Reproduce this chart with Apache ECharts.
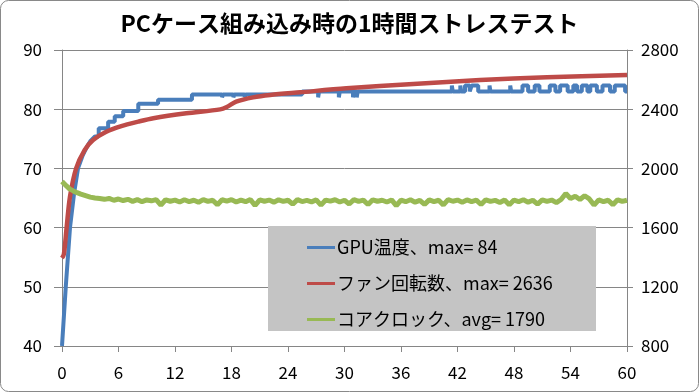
<!DOCTYPE html>
<html><head><meta charset="utf-8">
<script src="https://cdn.jsdelivr.net/npm/echarts@6/dist/echarts.min.js"></script>
<style>html,body{margin:0;padding:0;background:#fff}#c{width:699px;height:392px}</style>
</head><body><div id="c"></div>
<script>
const FONT = '"Noto Sans CJK JP", "Noto Sans", sans-serif';
const titleText = 'PCケース組み込み時の1時間ストレステスト';
const seriesNames = ['GPU温度、max= 84', 'ファン回転数、max= 2636', 'コアクロック、avg= 1790'];

// GPU temperature (left axis, °C)
const gpuTime = [0,0.4,0.85,1.3,1.7,2.2,2.6,3.0,3.5,3.9,3.9,4.9,4.9,5.6,5.6,6.5,6.5,8.1,8.1,10.2,10.2,13.8,13.8,
  17.0,17.0,17.1,17.1,18.2,18.2,18.3,18.3,19.4,19.4,19.5,19.5,25.5,25.5,
  27.2,27.2,27.3,27.3,29.4,29.4,29.5,29.5,30.9,30.9,31.0,31.0,31.3,31.3,31.4,31.4,
  41.4,41.4,41.5,41.5,42.3,42.3,42.4,42.4,42.8,42.8,43.3,43.3,43.5,43.5,44.2,44.2,45.4,45.4,45.5,45.5,
  47.6,47.6,47.7,47.7,48.9,48.9,49.5,49.5,50.2,50.2,50.7,50.7,51.8,51.8,52.4,52.4,52.9,52.9,53.7,53.7,
  54.3,54.3,54.7,54.7,55.2,55.2,55.8,55.8,56.1,56.1,56.8,56.8,57.4,57.4,58.2,58.2,58.7,58.7,59.8,59.8,60];
const gpuTemp = [40,50,60,66,70,72.2,73.5,74.6,75.4,75.4,76.8,76.8,77.9,77.9,78.8,78.8,79.7,79.7,80.9,80.9,81.6,81.6,82.5,
  82.5,82,82,82.5,82.5,82,82,82.5,82.5,82,82,82.5,82.5,83,
  83,82,82,83,83,82,82,83,83,82,82,83,83,82,82,83,
  83,84,84,83,83,84,84,83,83,84,84,83,83,84,84,83,83,84,84,83,
  83,84,84,83,83,84,84,83,83,84,84,83,83,84,84,83,83,84,84,83,
  83,84,84,83,83,84,84,83,83,84,84,83,83,84,84,83,83,84,84,83,83];

// Fan speed (right axis, rpm)
const fanTime = [0,0.2,0.5,0.85,1.5,2.4,3.3,4.7,6.3,8.1,9.7,13.2,16.8,17.5,18.5,20.3,22.1,25.3,30.2,37.3,44.4,51.5,60];
const fanRpm  = [1395,1420,1606,1809,2000,2124,2192,2248,2286,2316,2339,2372,2399,2415,2451,2480,2496,2514,2541,2570,2597,2616,2631];

// Core clock (right axis, MHz)
const clockTime = [0,0.2,0.5,0.8,1.2,1.6,2,2.5,3,3.5,4,
  4.5,5,5.5,6,6.5,7,7.5,8,8.5,9,9.5,10,10.5,11,11.5,12,12.5,13,13.5,14,14.5,15,15.5,16,16.5,17,17.5,18,18.5,19,19.5,20,
  20.5,21,21.5,22,22.5,23,23.5,24,24.5,25,25.5,26,26.5,27,27.5,28,28.5,29,29.5,30,30.5,31,31.5,32,32.5,33,33.5,34,34.5,35,
  35.5,36,36.5,37,37.5,38,38.5,39,39.5,40,40.5,41,41.5,42,42.5,43,43.5,44,44.5,45,45.5,46,46.5,47,47.5,48,48.5,49,49.5,50,
  50.5,51,51.5,52,52.5,53,53.5,54,54.5,55,55.5,56,56.5,57,57.5,58,58.5,59,59.5,60];
const clockMhz = [1912,1900,1880,1862,1848,1836,1826,1816,1806,1800,1796,
  1791,1797,1785,1793,1783,1791,1777,1789,1775,1787,1781,1789,1752,1788,1778,1786,1773,1788,1776,1785,1771,1789,1777,1785,1755,1788,1779,1789,1773,1786,1775,1790,
  1750,1787,1778,1786,1772,1788,1777,1785,1758,1789,1776,1784,1774,1787,1752,1786,1779,1788,1773,1785,1760,1789,1777,1786,1756,1788,1778,1785,1773,1787,
  1748,1786,1775,1788,1772,1784,1757,1787,1776,1785,1753,1789,1778,1786,1771,1787,1775,1785,1756,1788,1777,1784,1770,1787,1754,1786,1776,1788,1772,1785,
  1759,1787,1777,1786,1769,1790,1830,1797,1812,1790,1815,1794,1752,1787,1776,1785,1755,1788,1777,1785];

const zip = (a, b) => a.map((t, i) => [t, b[i]]);
const GRID = '#868686';

const chart = echarts.init(document.getElementById('c'), null, {renderer: 'canvas'});
chart.setOption({
  animation: false,
  backgroundColor: '#fff',
  title: {text: titleText, left: 'center', top: 7,
    textStyle: {fontFamily: FONT, fontSize: 23, fontWeight: 'bold', color: '#000'}},
  grid: {left: 62, right: 72, top: 50, bottom: 46},
  graphic: [
    {type: 'rect', z: 100, shape: {x: 0.5, y: 0.5, width: 698, height: 391, r: 8},
      style: {fill: 'none', stroke: '#898989', lineWidth: 1}},
    {type: 'rect', z: 3, shape: {x: 268, y: 226, width: 328, height: 105},
      style: {fill: '#c4c4c4'}}
  ],
  legend: {
    left: 302, top: 233, orient: 'vertical', z: 5,
    itemGap: 17, itemWidth: 28, itemHeight: 3, icon: 'rect',
    textStyle: {fontFamily: FONT, fontSize: 18, lineHeight: 19, color: '#000', padding: [0, 0, 0, -3]},
    data: seriesNames
  },
  xAxis: {
    type: 'value', min: 0, max: 60, interval: 6,
    axisLine: {show: true, lineStyle: {color: GRID}},
    axisTick: {show: true, length: 6, lineStyle: {color: GRID}},
    splitLine: {show: false},
    axisLabel: {margin: 18, fontFamily: FONT, fontSize: 17, color: '#000'}
  },
  yAxis: [
    {type: 'value', min: 40, max: 90, interval: 10, position: 'left',
      axisLine: {show: true, lineStyle: {color: GRID}},
      axisTick: {show: true, length: 8, lineStyle: {color: GRID}},
      splitLine: {show: true, lineStyle: {color: GRID, width: 1}},
      axisLabel: {margin: 20, fontFamily: FONT, fontSize: 17, color: '#000'}},
    {type: 'value', min: 800, max: 2800, interval: 400, position: 'right',
      axisLine: {show: true, lineStyle: {color: GRID}},
      axisTick: {show: true, length: 6, lineStyle: {color: GRID}},
      splitLine: {show: false},
      axisLabel: {margin: 14, fontFamily: FONT, fontSize: 17, color: '#000', formatter: v => String(v)}}
  ],
  series: [
    {name: seriesNames[0], type: 'line', yAxisIndex: 0, data: zip(gpuTime, gpuTemp),
      showSymbol: false, lineStyle: {color: '#4a7ebb', width: 4}, itemStyle: {color: '#4a7ebb'}},
    {name: seriesNames[1], type: 'line', yAxisIndex: 1, data: zip(fanTime, fanRpm), smooth: 0.3,
      showSymbol: false, lineStyle: {color: '#be4b48', width: 4.5}, itemStyle: {color: '#be4b48'}},
    {name: seriesNames[2], type: 'line', yAxisIndex: 1, data: zip(clockTime, clockMhz),
      showSymbol: false, lineStyle: {color: '#98b954', width: 5}, itemStyle: {color: '#98b954'}}
  ]
});
</script></body></html>
